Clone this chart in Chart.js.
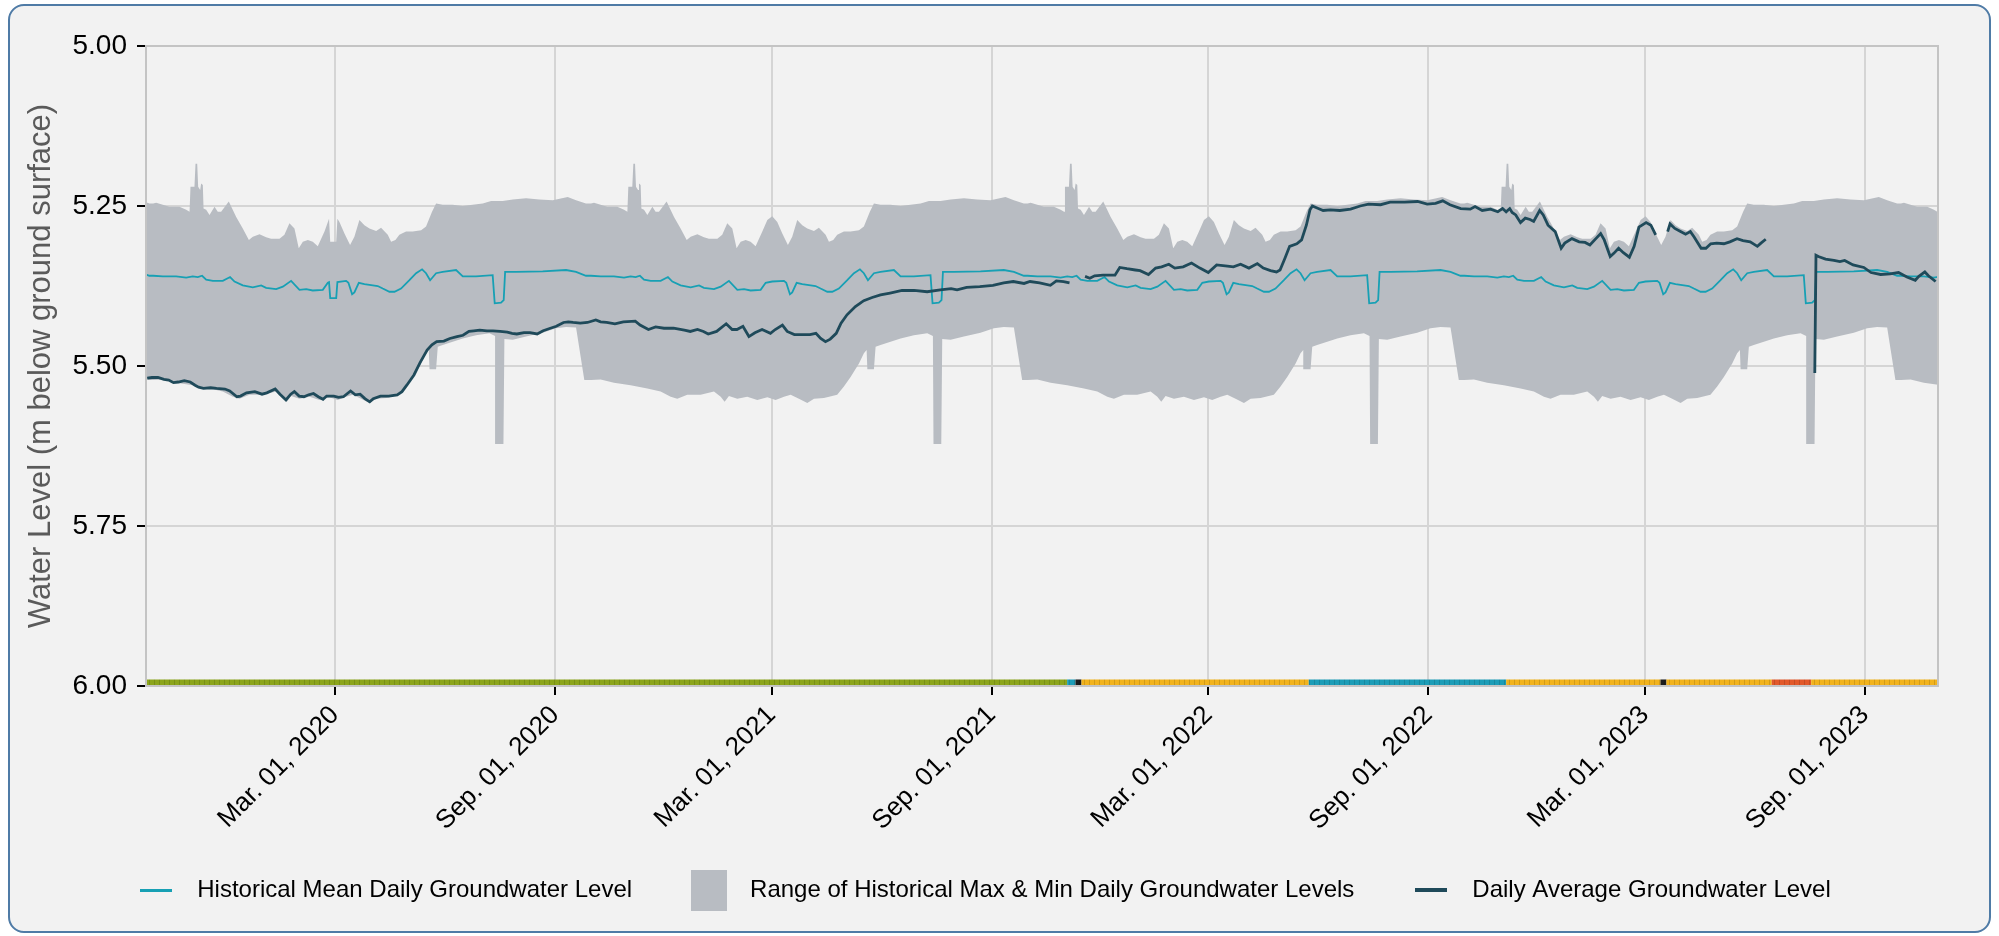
<!DOCTYPE html>
<html>
<head>
<meta charset="utf-8">
<script src="https://cdn.jsdelivr.net/npm/chart.js@4.4.0/dist/chart.umd.min.js"></script>
<style>
    html, body { margin: 0; padding: 0; background: #ffffff; }
    #card { position: absolute; left: 8px; top: 4px; width: 1983px; height: 929px; box-sizing: border-box;
            border: 2px solid #4f7ba6; border-radius: 16px; background: #f2f2f2; }
    #wrap { position: absolute; left: 0; top: 0; width: 1999px; height: 936px; }
</style>
</head>
<body>
<div id="card"></div>
<div id="wrap"><canvas id="graph"></canvas></div>
<script>
// x range and tick dates
var xStart = '2019-09-25';
var xEnd = '2023-11-01';
var tickDates = ['2020-03-01', '2020-09-01', '2021-03-01', '2021-09-01',
                 '2022-03-01', '2022-09-01', '2023-03-01', '2023-09-01'];
var yTicks = [5.00, 5.25, 5.50, 5.75, 6.00];

// historical daily stats, by day of water year (day 0 = Oct 1)
var waterYears = ['2018-10-01', '2019-10-01', '2020-10-01', '2021-10-01', '2022-10-01', '2023-10-01'];

var maxDays = [0, 2.5, 13.6, 22, 27.6, 30.4, 31.2, 34.5, 35.4, 36.8, 37.6, 39.3, 40.1, 41.5, 42.1,
    44.3, 47.1, 51.3, 54, 56.8, 63.2, 69.4, 74.9, 80, 83.3, 88.9, 94.4, 98.6, 105.6, 109.7,
    113.9, 118.1, 121.7, 125.1, 129.3, 133.4, 137.6, 143.2, 147.4, 151.5, 155.7, 159.9, 164.6, 168.2, 172.4,
    176.6, 180.8, 186.4, 190.5, 196.1, 198.9, 202.5, 205.8, 211.4, 217, 224, 228.1, 233.1, 236.5, 242,
    250.4, 258.8, 267.1, 275.5, 282.5, 292.2, 300.6, 311.7, 322.8, 334, 346.5, 353.5, 361.8];
var maxLevels = [5.246, 5.245, 5.251, 5.251, 5.256, 5.259, 5.220, 5.220, 5.184, 5.184, 5.220, 5.225, 5.215, 5.217, 5.254,
    5.256, 5.264, 5.251, 5.259, 5.259, 5.243, 5.267, 5.285, 5.303, 5.298, 5.294, 5.299, 5.301, 5.301, 5.295,
    5.277, 5.285, 5.316, 5.306, 5.303, 5.306, 5.313, 5.290, 5.272, 5.266, 5.275, 5.293, 5.311, 5.298, 5.272,
    5.280, 5.285, 5.289, 5.284, 5.295, 5.306, 5.303, 5.295, 5.290, 5.290, 5.288, 5.282, 5.259, 5.246, 5.248,
    5.248, 5.250, 5.248, 5.246, 5.242, 5.242, 5.240, 5.238, 5.240, 5.241, 5.236, 5.241, 5.246];

var minDays = [0, 8.1, 19.2, 33.1, 47.1, 58.2, 66.6, 72.1, 80.5, 91.6, 102.8, 108.4, 111.7, 115.3, 122.3,
    130.6, 139, 147.4, 154.3, 161.3, 166.9, 173.8, 180.8, 186.4, 194.7, 205.8, 211.4, 217, 224, 228.1,
    230.4, 231, 236.5, 237.9, 242, 250.4, 258.8, 269.9, 281.1, 285.8, 286.3, 292.8, 293.6, 300.6, 311.7,
    325.6, 336.8, 345.1, 353.5, 360.4];
var minLevels = [5.522, 5.521, 5.526, 5.530, 5.535, 5.540, 5.548, 5.551, 5.545, 5.545, 5.540, 5.548, 5.556, 5.547, 5.551,
    5.548, 5.553, 5.549, 5.553, 5.548, 5.545, 5.551, 5.558, 5.551, 5.550, 5.545, 5.532, 5.517, 5.496, 5.480,
    5.475, 5.505, 5.505, 5.470, 5.467, 5.462, 5.457, 5.452, 5.449, 5.453, 5.622, 5.622, 5.458, 5.459, 5.454,
    5.448, 5.441, 5.439, 5.440, 5.522];

var meanDays = [0, 8.1, 19.2, 27.6, 33.1, 37.3, 40.9, 44.3, 49.9, 58.2, 64.3, 68, 74.9, 83.3, 90.3,
    94.4, 102.8, 108.4, 115.3, 122.3, 127.9, 133.4, 141.8, 146, 151.5, 161.3, 163.2, 166.3, 168.2, 171.9,
    176.6, 183.6, 187.7, 191.9, 197.5, 201.7, 207.2, 214.2, 219.8, 224.8, 228.1, 231.5, 236.5, 242, 253.2,
    258.8, 269.9, 283.8, 285.5, 290.8, 293, 294.2, 303.3, 325.6, 345.1, 353.5, 361.8];
var meanLevels = [5.359, 5.360, 5.360, 5.362, 5.360, 5.361, 5.359, 5.365, 5.367, 5.367, 5.361, 5.368, 5.374, 5.377, 5.374,
    5.378, 5.380, 5.376, 5.367, 5.381, 5.380, 5.382, 5.381, 5.370, 5.368, 5.367, 5.370, 5.388, 5.385, 5.370,
    5.372, 5.374, 5.375, 5.379, 5.384, 5.384, 5.379, 5.366, 5.355, 5.349, 5.355, 5.366, 5.355, 5.353, 5.350,
    5.360, 5.360, 5.358, 5.402, 5.401, 5.397, 5.353, 5.353, 5.352, 5.350, 5.353, 5.359];

// leap-day notch in 2020
var leapDates = ['2020-02-25', '2020-02-26', '2020-03-02', '2020-03-03'];
var leapMax = [5.270, 5.306, 5.306, 5.270];
var leapMean = [5.369, 5.394, 5.394, 5.369];

// daily average groundwater level (null = no data)
var avgDates = ['2019-09-26', '2019-09-30', '2019-10-05', '2019-10-10', '2019-10-14', '2019-10-18', '2019-10-22', '2019-10-27',
    '2019-11-01', '2019-11-05', '2019-11-08', '2019-11-12', '2019-11-18', '2019-11-23', '2019-11-30', '2019-12-04',
    '2019-12-10', '2019-12-13', '2019-12-18', '2019-12-25', '2019-12-31', '2020-01-04', '2020-01-11', '2020-01-15',
    '2020-01-20', '2020-01-24', '2020-01-27', '2020-01-31', '2020-02-04', '2020-02-08', '2020-02-12', '2020-02-16',
    '2020-02-20', '2020-02-23', '2020-02-29', '2020-03-04', '2020-03-08', '2020-03-14', '2020-03-18', '2020-03-22',
    '2020-03-26', '2020-03-30', '2020-04-02', '2020-04-08', '2020-04-15', '2020-04-22', '2020-04-26', '2020-04-30',
    '2020-05-06', '2020-05-11', '2020-05-17', '2020-05-21', '2020-05-25', '2020-05-31', '2020-06-05', '2020-06-11',
    '2020-06-16', '2020-06-21', '2020-06-25', '2020-06-30', '2020-07-06', '2020-07-11', '2020-07-17', '2020-07-23',
    '2020-07-27', '2020-07-31', '2020-08-06', '2020-08-11', '2020-08-17', '2020-08-22', '2020-08-28', '2020-09-02',
    '2020-09-08', '2020-09-12', '2020-09-16', '2020-09-22', '2020-09-28', '2020-10-05', '2020-10-09', '2020-10-14',
    '2020-10-21', '2020-10-28', '2020-11-07', '2020-11-11', '2020-11-18', '2020-11-24', '2020-12-01', '2020-12-09',
    '2020-12-18', '2020-12-23', '2020-12-29', '2021-01-03', '2021-01-07', '2021-01-14', '2021-01-22', '2021-01-27',
    '2021-01-31', '2021-02-05', '2021-02-10', '2021-02-15', '2021-02-21', '2021-02-28', '2021-03-04', '2021-03-10',
    '2021-03-14', '2021-03-20', '2021-03-27', '2021-04-02', '2021-04-07', '2021-04-11', '2021-04-15', '2021-04-19',
    '2021-04-24', '2021-04-28', '2021-05-03', '2021-05-10', '2021-05-17', '2021-05-24', '2021-05-31', '2021-06-08',
    '2021-06-18', '2021-06-28', '2021-07-09', '2021-07-20', '2021-07-29', '2021-08-03', '2021-08-11', '2021-08-22',
    '2021-09-02', '2021-09-11', '2021-09-19', '2021-09-28', '2021-10-03', '2021-10-11', '2021-10-20', '2021-10-25',
    '2021-10-31', '2021-11-05', '2021-11-11', '2021-11-18', '2021-11-22', '2021-11-26', '2021-12-03', '2021-12-13',
    '2021-12-17', '2021-12-23', '2021-12-30', '2022-01-03', '2022-01-10', '2022-01-16', '2022-01-21', '2022-01-27',
    '2022-02-01', '2022-02-08', '2022-02-15', '2022-02-22', '2022-03-01', '2022-03-08', '2022-03-17', '2022-03-22',
    '2022-03-28', '2022-04-04', '2022-04-11', '2022-04-16', '2022-04-22', '2022-04-27', '2022-04-30', '2022-05-04',
    '2022-05-08', '2022-05-14', '2022-05-18', '2022-05-22', '2022-05-25', '2022-05-27', '2022-06-01', '2022-06-05',
    '2022-06-11', '2022-06-19', '2022-06-28', '2022-07-06', '2022-07-13', '2022-07-23', '2022-07-31', '2022-08-12',
    '2022-08-23', '2022-08-31', '2022-09-07', '2022-09-13', '2022-09-19', '2022-09-28', '2022-10-06', '2022-10-10',
    '2022-10-16', '2022-10-23', '2022-10-29', '2022-11-02', '2022-11-05', '2022-11-08', '2022-11-10', '2022-11-13',
    '2022-11-17', '2022-11-21', '2022-11-25', '2022-11-28', '2022-12-03', '2022-12-06', '2022-12-10', '2022-12-16',
    '2022-12-21', '2022-12-24', '2022-12-30', '2023-01-05', '2023-01-10', '2023-01-14', '2023-01-19', '2023-01-23',
    '2023-01-26', '2023-01-31', '2023-02-03', '2023-02-07', '2023-02-11', '2023-02-16', '2023-02-20', '2023-02-24',
    '2023-03-02', '2023-03-06', '2023-03-10', '2023-03-15', '2023-03-20', '2023-03-22', '2023-03-26', '2023-03-30',
    '2023-04-04', '2023-04-08', '2023-04-11', '2023-04-17', '2023-04-21', '2023-04-25', '2023-04-30', '2023-05-06',
    '2023-05-11', '2023-05-17', '2023-05-22', '2023-05-28', '2023-06-03', '2023-06-06', '2023-06-10', '2023-07-01',
    '2023-07-21', '2023-07-22', '2023-07-24', '2023-07-30', '2023-08-06', '2023-08-11', '2023-08-15', '2023-08-22',
    '2023-08-31', '2023-09-06', '2023-09-14', '2023-09-22', '2023-09-29', '2023-10-06', '2023-10-13', '2023-10-16',
    '2023-10-21', '2023-10-24', '2023-10-30'];
var avgLevels = [5.519, 5.518, 5.518, 5.521, 5.522, 5.526, 5.525, 5.523,
    5.525, 5.530, 5.533, 5.535, 5.534, 5.535, 5.536, 5.539,
    5.548, 5.547, 5.542, 5.540, 5.544, 5.542, 5.536, 5.544,
    5.553, 5.544, 5.540, 5.547, 5.548, 5.545, 5.543, 5.548,
    5.552, 5.547, 5.547, 5.549, 5.548, 5.539, 5.545, 5.544,
    5.551, 5.556, 5.551, 5.547, 5.547, 5.545, 5.540, 5.530,
    5.514, 5.495, 5.475, 5.467, 5.462, 5.461, 5.457, 5.454,
    5.452, 5.446, 5.445, 5.444, 5.445, 5.445, 5.446, 5.447,
    5.449, 5.450, 5.448, 5.448, 5.450, 5.445, 5.441, 5.438,
    5.432, 5.431, 5.432, 5.433, 5.432, 5.428, 5.431, 5.432,
    5.434, 5.431, 5.430, 5.436, 5.443, 5.439, 5.441, 5.441,
    5.444, 5.446, 5.443, 5.446, 5.450, 5.446, 5.434, 5.443,
    5.443, 5.438, 5.454, 5.448, 5.443, 5.449, 5.443, 5.436,
    5.446, 5.451, 5.451, 5.451, 5.449, 5.457, 5.462, 5.458,
    5.449, 5.433, 5.420, 5.407, 5.398, 5.393, 5.389, 5.386,
    5.382, 5.382, 5.384, 5.381, 5.379, 5.381, 5.377, 5.376,
    5.374, 5.370, 5.368, 5.371, 5.368, 5.370, 5.374, 5.367,
    5.368, 5.370, null, 5.360, 5.363, 5.359, 5.358, 5.358,
    5.346, 5.348, 5.350, 5.351, 5.357, 5.347, 5.345, 5.341,
    5.347, 5.345, 5.339, 5.347, 5.354, 5.342, 5.344, 5.345,
    5.341, 5.347, 5.340, 5.347, 5.351, 5.353, 5.350, 5.332,
    5.313, 5.309, 5.303, 5.280, 5.256, 5.250, 5.254, 5.257,
    5.256, 5.257, 5.255, 5.250, 5.247, 5.248, 5.244, 5.244,
    5.243, 5.247, 5.246, 5.242, 5.248, 5.254, 5.255, 5.251,
    5.257, 5.255, 5.259, 5.254, 5.259, 5.254, 5.260, 5.264,
    5.276, 5.269, 5.271, 5.274, 5.257, 5.264, 5.280, 5.290,
    5.316, 5.308, 5.301, 5.306, 5.307, 5.311, 5.301, 5.293,
    5.303, 5.329, 5.324, 5.316, 5.323, 5.330, 5.313, 5.283,
    5.276, 5.280, 5.295, null, 5.290, 5.278, 5.285, 5.289,
    5.294, 5.290, 5.298, 5.316, 5.316, 5.309, 5.308, 5.309,
    5.306, 5.301, 5.304, 5.306, 5.313, 5.308, 5.302, null,
    5.511, 5.327, 5.329, 5.333, 5.335, 5.337, 5.335, 5.342,
    5.346, 5.354, 5.357, 5.356, 5.354, 5.361, 5.366, 5.360,
    5.353, 5.359, 5.368];

// data status strip along the bottom
var statusDates = ['2019-09-25', '2021-11-03', '2021-11-10', '2021-11-15', '2022-05-24', '2022-11-05',
                   '2023-03-14', '2023-03-19', '2023-06-15', '2023-07-18', '2023-11-01'];
var statusCodes = [3, 4, 0, 2, 4, 2, 0, 2, 1, 2];
var statusLevel = 5.9945;

var statusColors = ['#1c1c1c', '#e2592a', '#f2b31d', '#8ca51c', '#1d9db7'];

var DAY = 86400000;
function toTime(s) { return Date.parse(s + 'T00:00:00Z'); }

function climatePoints(days, levels, notchLevels)
{
    var pts = [];
    waterYears.forEach(function (wy) {
        var start = toTime(wy);
        for (var i = 0; i < days.length; i++) {
            pts.push({ x: start + days[i] * DAY, y: levels[i] });
        }
    });
    if (notchLevels) {
        var a = toTime(leapDates[0]);
        var b = toTime(leapDates[leapDates.length - 1]);
        pts = pts.filter(function (p) { return p.x < a || p.x > b; });
        for (var j = 0; j < leapDates.length; j++) {
            pts.push({ x: toTime(leapDates[j]), y: notchLevels[j] });
        }
        pts.sort(function (p, q) { return p.x - q.x; });
    }
    return pts;
}

var avgPoints = avgDates.map(function (d, i) { return { x: toTime(d), y: avgLevels[i] }; });
var statusPoints = statusDates.map(function (d) { return { x: toTime(d), y: statusLevel }; });

var months = ['Jan.', 'Feb.', 'Mar.', 'Apr.', 'May', 'Jun.', 'Jul.', 'Aug.', 'Sep.', 'Oct.', 'Nov.', 'Dec.'];
function fmtDate(v)
{
    var d = new Date(v);
    var day = d.getUTCDate();
    return months[d.getUTCMonth()] + ' ' + (day < 10 ? '0' + day : day) + ', ' + d.getUTCFullYear();
}

function symbol(w, h, color)
{
    var c = document.createElement('canvas');
    c.width = w;
    c.height = h;
    var g = c.getContext('2d');
    g.fillStyle = color;
    g.fillRect(0, 0, w, h);
    return c;
}

// striped fill for the status strip
function stripes(color)
{
    var c = document.createElement('canvas');
    c.width = 5;
    c.height = 8;
    var g = c.getContext('2d');
    g.fillStyle = color;
    g.fillRect(0, 0, 5, 8);
    g.fillStyle = 'rgba(0,0,0,0.13)';
    g.fillRect(4, 0, 1, 8);
    return g.createPattern(c, 'repeat');
}
var statusPatterns = statusColors.map(stripes);

var meanColor = '#17a0b4';
var rangeColor = '#b8bcc2';
var avgColor = '#1f4a5a';

Chart.defaults.font.family = "'Liberation Sans', Arial, Helvetica, sans-serif";
Chart.defaults.color = '#000';

var frame = {
    id: 'frame',
    afterDatasetsDraw: function (chart) {
        var a = chart.chartArea;
        var ctx = chart.ctx;
        ctx.save();
        ctx.strokeStyle = '#c4c4c4';
        ctx.lineWidth = 2;
        ctx.strokeRect(a.left, a.top, a.right - a.left, a.bottom - a.top);
        ctx.restore();
    }
};

var graph = new Chart(document.getElementById('graph'), {
    type: 'line',
    data: {
        datasets: [
            {
                label: 'Status',
                data: statusPoints,
                borderWidth: 6,
                borderCapStyle: 'butt',
                borderColor: statusPatterns[statusCodes[0]],
                segment: {
                    borderColor: function (ctx) { return statusPatterns[statusCodes[ctx.p0DataIndex]]; }
                },
                pointRadius: 0,
                fill: false
            },
            {
                label: 'Daily Average Groundwater Level',
                data: avgPoints,
                borderColor: avgColor,
                borderWidth: 2.8,
                pointRadius: 0,
                spanGaps: false,
                fill: false
            },
            {
                label: 'Historical Mean Daily Groundwater Level',
                data: climatePoints(meanDays, meanLevels, leapMean),
                borderColor: meanColor,
                borderWidth: 1.8,
                pointRadius: 0,
                fill: false
            },
            {
                label: 'Historical Max',
                data: climatePoints(maxDays, maxLevels, leapMax),
                borderColor: rangeColor,
                backgroundColor: rangeColor,
                borderWidth: 0,
                pointRadius: 0,
                fill: '+1'
            },
            {
                label: 'Historical Min',
                data: climatePoints(minDays, minLevels, null),
                borderColor: rangeColor,
                borderWidth: 0,
                pointRadius: 0,
                fill: false
            }
        ]
    },
    options: {
        responsive: true,
        maintainAspectRatio: false,
        animation: false,
        events: [],
        layout: { padding: { left: 20, right: 61, top: 46, bottom: 24 } },
        scales: {
            x: {
                type: 'linear',
                min: toTime(xStart),
                max: toTime(xEnd),
                afterBuildTicks: function (scale) {
                    scale.ticks = tickDates.map(function (d) { return { value: toTime(d) }; });
                },
                afterFit: function (scale) { scale.height = 144; },
                ticks: {
                    autoSkip: false,
                    minRotation: 45,
                    maxRotation: 45,
                    padding: 5,
                    color: '#000',
                    font: { size: 26 },
                    callback: function (v) { return fmtDate(v); }
                },
                grid: { color: '#d5d5d5', lineWidth: 2, tickColor: '#000', tickLength: 9, tickWidth: 2 },
                border: { display: true, color: '#c4c4c4', width: 2 }
            },
            y: {
                reverse: true,
                min: 5,
                max: 6,
                afterBuildTicks: function (scale) {
                    scale.ticks = yTicks.map(function (v) { return { value: v }; });
                },
                afterFit: function (scale) { scale.width = 126; },
                ticks: {
                    padding: 10,
                    color: '#000',
                    font: { size: 28 },
                    callback: function (v) { return v.toFixed(2); }
                },
                grid: { color: '#d5d5d5', lineWidth: 2, tickColor: '#000', tickLength: 9, tickWidth: 2 },
                border: { display: true, color: '#c4c4c4', width: 2 },
                title: {
                    display: true,
                    text: 'Water Level (m below ground surface)',
                    color: '#5a5a5a',
                    font: { size: 31 },
                    padding: { top: 3, bottom: 4 }
                }
            }
        },
        plugins: {
            tooltip: { enabled: false },
            legend: {
                position: 'bottom',
                labels: {
                    usePointStyle: true,
                    pointStyleWidth: 58,
                    padding: 48,
                    color: '#000',
                    font: { size: 24 },
                    generateLabels: function () {
                        return [
                            { text: 'Historical Mean Daily Groundwater Level', pointStyle: symbol(32, 3, meanColor), datasetIndex: 2, lineWidth: 0 },
                            { text: 'Range of Historical Max & Min Daily Groundwater Levels', pointStyle: symbol(36, 41, rangeColor), datasetIndex: 3, lineWidth: 0 },
                            { text: 'Daily Average Groundwater Level', pointStyle: symbol(32, 4, avgColor), datasetIndex: 1, lineWidth: 0 }
                        ];
                    }
                }
            }
        }
    },
    plugins: [frame]
});
</script>
</body>
</html>
